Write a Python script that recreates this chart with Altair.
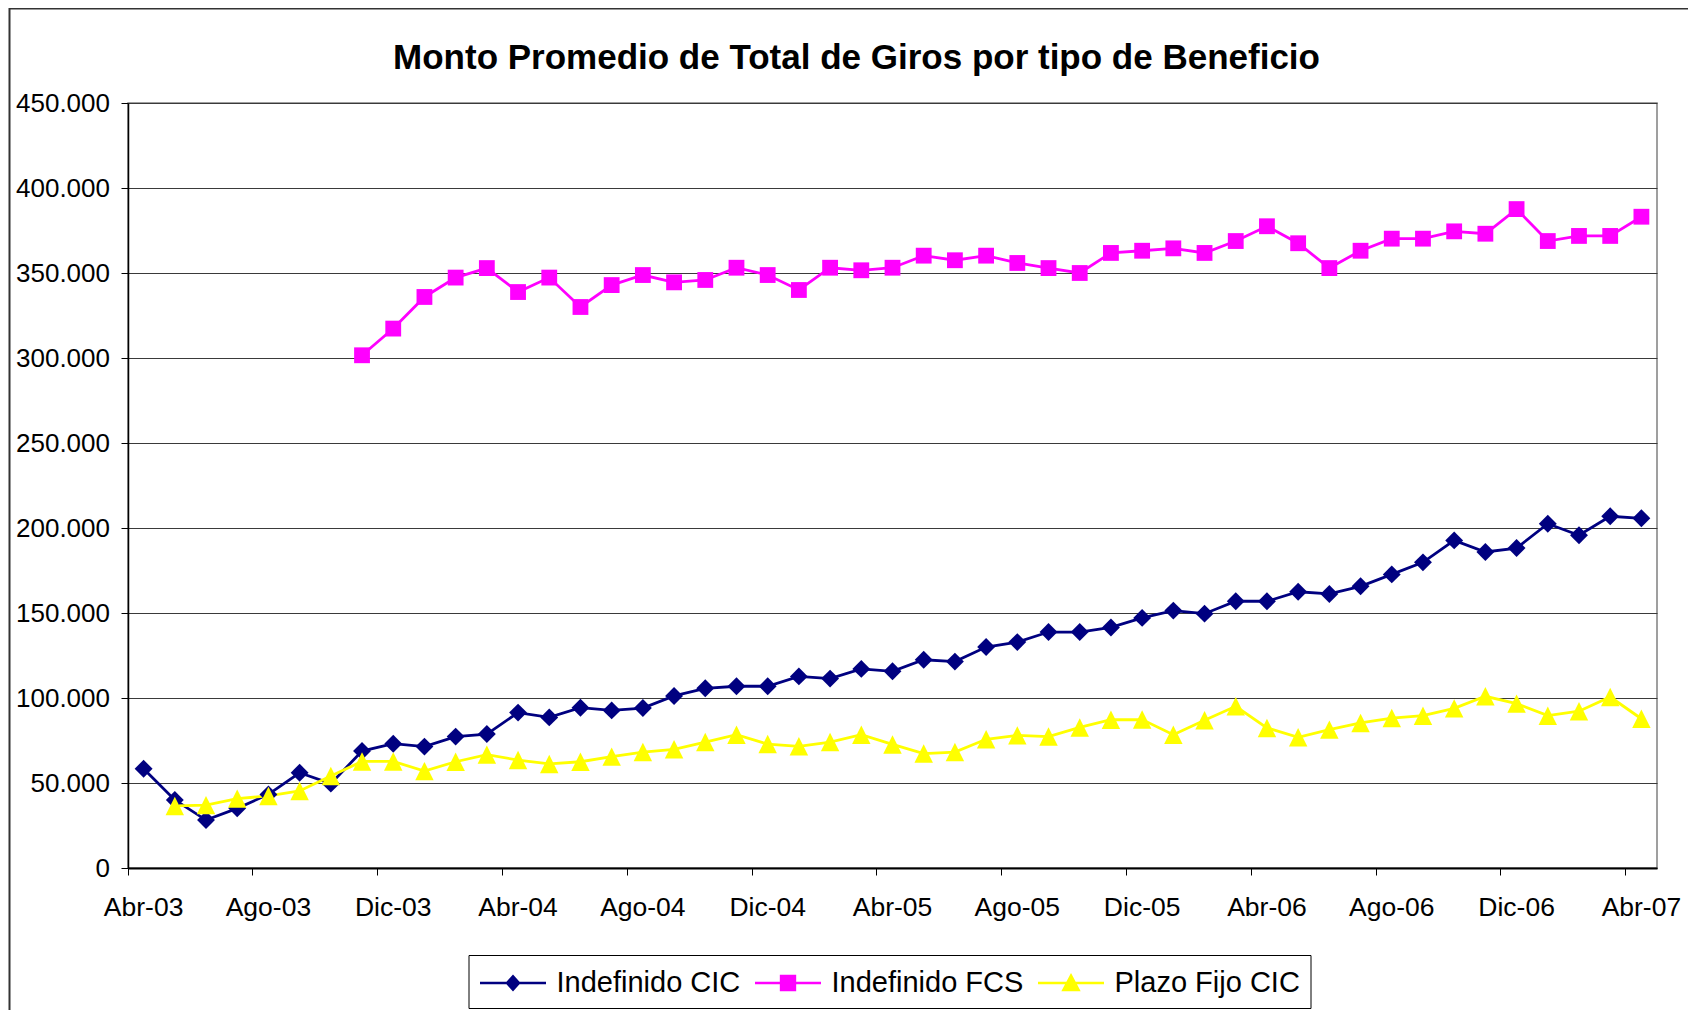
import altair as alt
import pandas as pd

# ---------------- data ----------------
meses = [
    "Abr-03", "May-03", "Jun-03", "Jul-03", "Ago-03", "Sep-03", "Oct-03", "Nov-03", "Dic-03",
    "Ene-04", "Feb-04", "Mar-04", "Abr-04", "May-04", "Jun-04", "Jul-04", "Ago-04", "Sep-04", "Oct-04", "Nov-04", "Dic-04",
    "Ene-05", "Feb-05", "Mar-05", "Abr-05", "May-05", "Jun-05", "Jul-05", "Ago-05", "Sep-05", "Oct-05", "Nov-05", "Dic-05",
    "Ene-06", "Feb-06", "Mar-06", "Abr-06", "May-06", "Jun-06", "Jul-06", "Ago-06", "Sep-06", "Oct-06", "Nov-06", "Dic-06",
    "Ene-07", "Feb-07", "Mar-07", "Abr-07",
]

series = ["Indefinido CIC", "Indefinido FCS", "Plazo Fijo CIC"]

indefinido_cic = [
    58400, 40000, 28200, 35100, 43300, 56000, 49600, 68800, 73100,
    71400, 77300, 78800, 91400, 88600, 94300, 92700, 94100, 101200, 105700, 106900, 106900,
    112700, 111400, 117100, 115700, 122500, 121400, 130000, 132900, 138800, 138800, 141500, 147100,
    151400, 149600, 156900, 156900, 162500, 161200, 165700, 172700, 179800, 192700, 185900, 188200,
    202500, 195700, 206900, 205700,
]

indefinido_fcs = [
    None, None, None, None, None, None, None, 301600, 317300,
    335900, 347300, 352900, 338800, 347300, 330000, 342900, 348800, 344500, 345900, 353100, 348800,
    340000, 353100, 351600, 353100, 360200, 357500, 360200, 355900, 352900, 350000, 361800, 363100,
    364500, 361800, 368800, 377500, 367500, 352900, 363100, 370200, 370200, 374500, 373100, 387600,
    368800, 371800, 371800, 383100,
]

plazo_fijo_cic = [
    None, 36500, 37000, 40800, 42400, 45300, 54100, 62700, 62700,
    57000, 62500, 66700, 63500, 61200, 62500, 65500, 68200, 69800, 74100, 78400, 72900,
    71600, 74100, 78400, 72700, 67300, 68200, 75700, 78000, 77300, 82700, 87200, 87300,
    78400, 86900, 95100, 82400, 76900, 81400, 85300, 88200, 89600, 93900, 101000, 96700,
    89600, 92200, 100600, 87800,
]

y_ticks = [0, 50000, 100000, 150000, 200000, 250000, 300000, 350000, 400000, 450000]
x_labels = meses[::4]

colores = ["#000080", "#FF00FF", "#FFFF00"]
formas = ["diamond", "square", "M0,-1L1,1L-1,1Z"]
tamanos = [320, 250, 340]
formas_leyenda = [
    "M-1,0H3M1,-0.4L1.36,0L1,0.4L0.64,0Z",
    "M-1,0H3M0.58,-0.42H1.42V0.42H0.58Z",
    "M-1,0H3M1,-0.45L1.46,0.42H0.54Z",
]

rows = []
for nombre, valores in zip(series, [indefinido_cic, indefinido_fcs, plazo_fijo_cic]):
    for mes, v in zip(meses, valores):
        if v is not None:
            rows.append({"mes": mes, "serie": nombre, "valor": v})
df = pd.DataFrame(rows)

# ---------------- chart ----------------
W, H = 1529, 765
FONT = "Liberation Sans"

x_enc = alt.X(
    "mes:O",
    sort=meses,
    bandPosition=0.5,
    scale=alt.Scale(type="band", domain=meses, paddingInner=0, paddingOuter=0),
    axis=alt.Axis(
        values=x_labels, title=None, labelAngle=0, bandPosition=0, tickExtra=False,
        grid=False, tickSize=7, labelPadding=19.5, labelFontSize=26.5,
        domainWidth=2, labelOverlap=False,
    ),
)
y_enc = alt.Y(
    "valor:Q",
    scale=alt.Scale(domain=[0, 450000], nice=False, zero=True),
    axis=alt.Axis(
        values=y_ticks, title=None, grid=True, tickSize=7, labelPadding=11.5,
        labelFontSize=26,
        labelExpr="replace(format(datum.value, ','), ',', '.')",
        domainWidth=1.5,
    ),
)

base = alt.Chart(df)

capas = []
for s, c in zip(series, colores):
    capas.append(
        base.transform_filter(alt.datum.serie == s)
        .mark_line(strokeWidth=2.8, color=c)
        .encode(x=x_enc, y=y_enc)
    )
for s, c, f, t in zip(series, colores, formas, tamanos):
    capas.append(
        base.transform_filter(alt.datum.serie == s)
        .mark_point(filled=True, opacity=1, shape=f, size=t, color=c)
        .encode(x=x_enc, y=y_enc)
    )

leg = alt.Legend(
    title=None, orient="none", legendX=340.5, legendY=852, direction="horizontal",
    columns=3, symbolSize=1089, symbolStrokeWidth=2.5, labelFont=FONT, labelFontSize=29,
    labelColor="black", labelOffset=42, labelLimit=400, columnPadding=9, padding=10,
    strokeColor="black", fillColor="white", symbolOpacity=1,
)
leyenda = (
    alt.Chart(df)
    .mark_point(filled=True, opacity=0)
    .encode(
        fill=alt.Fill("serie:N", scale=alt.Scale(domain=series, range=colores), legend=leg),
        stroke=alt.Stroke("serie:N", scale=alt.Scale(domain=series, range=colores), legend=leg),
        shape=alt.Shape("serie:N", scale=alt.Scale(domain=series, range=formas_leyenda), legend=leg),
    )
)

marco_h = (
    alt.Chart(alt.Data(values=[{}]))
    .mark_rule(color="#333333", strokeWidth=2)
    .encode(x=alt.value(-119), x2=alt.value(W + 40), y=alt.value(-94.5))
)
marco_v = (
    alt.Chart(alt.Data(values=[{}]))
    .mark_rule(color="#333333", strokeWidth=2)
    .encode(x=alt.value(-118.5), y=alt.value(-95.5), y2=alt.value(H + 150))
)

chart = (
    alt.layer(marco_h, marco_v, *capas, leyenda)
    .properties(
        width=W,
        height=H,
        autosize=alt.AutoSizeParams(type="none"),
        padding={"left": 120, "top": 95, "right": 31, "bottom": 142},
        background="white",
        title=alt.TitleParams(
            "Monto Promedio de Total de Giros por tipo de Beneficio",
            font=FONT, fontSize=35, fontWeight="bold", color="black",
            anchor="middle", dx=-36, dy=117, baseline="alphabetic", offset=20,
        ),
    )
    .configure_view(stroke="#808080", strokeWidth=1.5)
    .configure_axis(
        labelFont=FONT, labelColor="black", domainColor="black", tickColor="black",
        tickWidth=1, gridColor="#3a3a3a", gridWidth=1,
    )
)

chart.save("out.html", embed_options={"renderer": "svg", "actions": False})
